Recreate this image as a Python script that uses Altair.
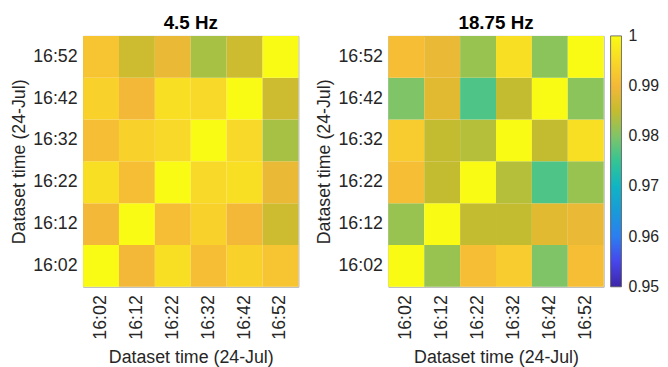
import altair as alt
import pandas as pd

times = ["16:02", "16:12", "16:22", "16:32", "16:42", "16:52"]

# rows: y time from 16:02 (bottom) to 16:52 (top); columns: x time 16:02..16:52
vals_45 = [
    [1.000, 0.990, 0.996, 0.991, 0.994, 0.992],
    [0.990, 1.000, 0.991, 0.994, 0.990, 0.986],
    [0.996, 0.991, 1.000, 0.995, 0.996, 0.989],
    [0.991, 0.994, 0.995, 1.000, 0.995, 0.983],
    [0.994, 0.990, 0.996, 0.995, 1.000, 0.986],
    [0.992, 0.986, 0.989, 0.983, 0.986, 1.000],
]
vals_1875 = [
    [1.000, 0.982, 0.991, 0.993, 0.980, 0.991],
    [0.982, 1.000, 0.985, 0.985, 0.988, 0.989],
    [0.991, 0.985, 1.000, 0.984, 0.9765, 0.982],
    [0.993, 0.985, 0.984, 1.000, 0.985, 0.996],
    [0.980, 0.988, 0.9765, 0.985, 1.000, 0.981],
    [0.991, 0.989, 0.982, 0.996, 0.981, 1.000],
]

# parula-like colormap stops for the 0.95..1 colour range
cmap_domain = [0.95, 0.955, 0.96, 0.965, 0.97, 0.975, 0.98, 0.985, 0.99, 0.995, 1.0]
cmap_range = ["#3e26a8", "#4746eb", "#2c7ef0", "#1a9ad8", "#10b4c4", "#34c494",
              "#80c468", "#c4bc30", "#f4b838", "#f8d828", "#f9fb14"]
cbar_ticks = [0.95, 0.96, 0.97, 0.98, 0.99, 1.0]
cbar_labels = ["0.95", "0.96", "0.97", "0.98", "0.99", "1"]

FONT = "Liberation Sans"
TXT = "#262626"
H = 254


def long(mat):
    rows = []
    for i, yt in enumerate(times):
        for j, xt in enumerate(times):
            rows.append({"x": xt, "y": yt, "v": mat[i][j]})
    return pd.DataFrame(rows)


color = alt.Color(
    "v:Q",
    scale=alt.Scale(domain=cmap_domain, range=cmap_range, clamp=True),
    legend=None,
)


def panel(df, title):
    return alt.Chart(df, title=title).mark_rect().encode(
        x=alt.X("x:O", sort=times, title="Dataset time (24-Jul)",
                axis=alt.Axis(labelAngle=270, labelPadding=8, ticks=False, domain=False,
                              titlePadding=10)),
        y=alt.Y("y:O", sort=list(reversed(times)), title="Dataset time (24-Jul)",
                axis=alt.Axis(labelPadding=6, ticks=False, domain=False, titlePadding=4)),
        color=color,
    ).properties(width=218, height=H)


# colour bar: one rect spanning the colour domain, filled with the colormap gradient
lo, hi = cmap_domain[0], cmap_domain[-1]
stops = [alt.GradientStop(offset=(d - lo) / (hi - lo), color=c)
         for d, c in zip(cmap_domain, cmap_range)]
yscale = alt.Scale(domain=[lo, hi], nice=False, zero=False, padding=0)
cbar_rect = alt.Chart(pd.DataFrame({"lo": [lo], "hi": [hi]})).mark_rect(
    color=alt.LinearGradient(gradient="linear", stops=stops, x1=0, x2=0, y1=1, y2=0),
    stroke="#555555", strokeWidth=0.8,
).encode(
    x=alt.value(0), x2=alt.value(11),
    y=alt.Y("lo:Q", scale=yscale, axis=None),
    y2="hi:Q",
)
cbar_text = alt.Chart(pd.DataFrame({"t": cbar_ticks, "lab": cbar_labels})).mark_text(
    align="left", baseline="middle", font=FONT, fontSize=16, color=TXT,
).encode(
    x=alt.value(18),
    y=alt.Y("t:Q", scale=yscale, axis=None),
    text="lab:N",
)
cbar = alt.layer(cbar_rect, cbar_text).properties(
    width=11, height=H, view=alt.ViewBackground(stroke=None)
)

chart = alt.hconcat(
    panel(long(vals_45), "4.5 Hz"),
    alt.hconcat(panel(long(vals_1875), "18.75 Hz"), cbar, spacing=5),
    spacing=16,
).properties(
    padding={"left": 2, "top": 3, "right": 0, "bottom": 0}
).configure_view(stroke="#b0b0b0", strokeWidth=1).configure_axis(
    labelFont=FONT, titleFont=FONT, labelFontSize=18, titleFontSize=18,
    labelColor=TXT, titleColor=TXT, titleFontWeight="normal",
).configure_title(
    font=FONT, fontSize=19, fontWeight="bold", color="#000000", offset=3,
).configure_scale(bandPaddingInner=0, bandPaddingOuter=0)

chart.save("out.html", embed_options={"renderer": "svg", "actions": False})
